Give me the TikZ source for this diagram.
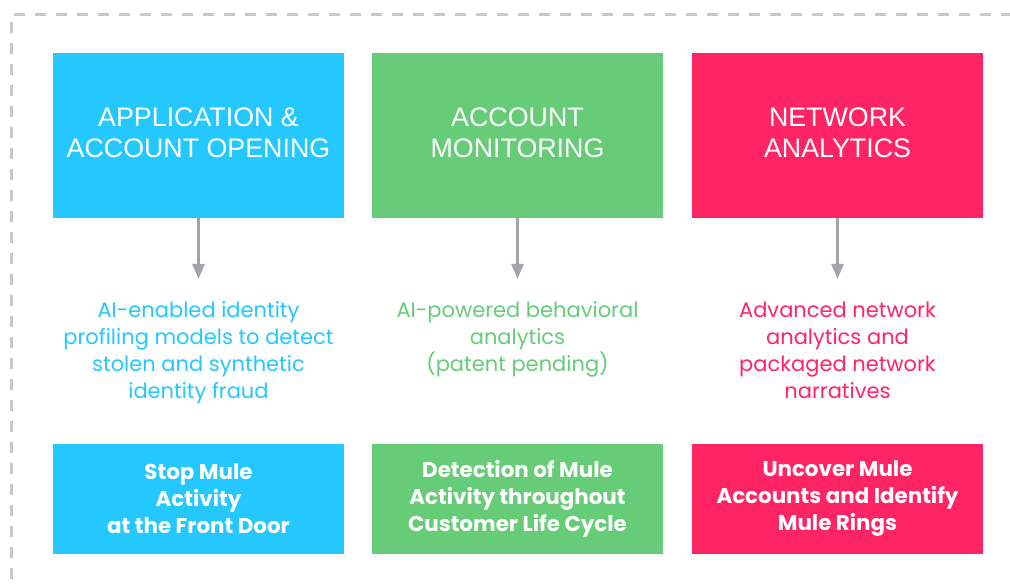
\documentclass[tikz,border=0pt]{standalone}
\usepackage{fontspec}
\setmainfont{Liberation Sans}
\newfontfamily\bodyfont{Poppins}
\usetikzlibrary{arrows.meta}
\definecolor{cblue}{RGB}{36,200,255}
\definecolor{cgreen}{RGB}{102,204,119}
\definecolor{cpink}{RGB}{255,36,99}
\definecolor{cborder}{RGB}{200,200,200}
\definecolor{carrow}{RGB}{163,163,168}
\tikzset{
  topbox/.style={fill=#1, minimum width=291pt, minimum height=165pt, inner sep=0pt},
  toptext/.style={text=white, font=\fontsize{26.8}{31}\selectfont, align=center, inner sep=0pt},
  botbox/.style={fill=#1, minimum width=291pt, minimum height=110pt, inner sep=0pt, text=white,
    font=\bodyfont\bfseries\fontsize{21.4}{27}\selectfont, align=center},
  desc/.style={text=#1, font=\bodyfont\fontsize{21}{27}\selectfont, align=center, inner sep=0pt, anchor=north},
  flow/.style={draw=carrow, line width=2.5pt, -{Triangle[length=15pt,width=12pt]}},
  frame/.style={draw=cborder, line width=3pt, dash pattern=on 11pt off 10pt}
}
\begin{document}
\begin{tikzpicture}[x=1pt,y=-1pt]
\useasboundingbox (0,0) rectangle (1010,588);
\draw[frame] (11,600) -- (11,15) -- (1030,15);
\node[topbox=cblue] (t1) at (198.5,135.5) {};
\node[topbox=cgreen] (t2) at (517.5,135.5) {};
\node[topbox=cpink] (t3) at (837.5,135.5) {};
\node[toptext] (l1) at (198.5,132.5) {APPLICATION \&\\ACCOUNT OPENING};
\node[toptext] (l2) at (517.5,132.5) {ACCOUNT\\MONITORING};
\node[toptext] (l3) at (837.5,132.5) {NETWORK\\ANALYTICS};
\coordinate (a1) at (198.5,279);
\coordinate (a2) at (517.5,279);
\coordinate (a3) at (837.5,279);
\draw[flow] (t1.south) -- (a1);
\draw[flow] (t2.south) -- (a2);
\draw[flow] (t3.south) -- (a3);
\node[desc=cblue] (d1) at (198.5,301.5) {AI-enabled identity\\profiling models to detect\\stolen and synthetic\\identity fraud};
\node[desc=cgreen] (d2) at (517.5,301.5) {AI-powered behavioral\\analytics\\(patent pending)};
\node[desc=cpink] (d3) at (837.5,301.5) {Advanced network\\analytics and\\packaged network\\narratives};
\node[botbox=cblue] (b1) at (198.5,499) {Stop Mule\\Activity\\at the Front Door};
\node[botbox=cgreen] (b2) at (517.5,499) {Detection of Mule\\Activity throughout\\Customer Life Cycle};
\node[botbox=cpink] (b3) at (837.5,499) {Uncover Mule\\Accounts and Identify\\Mule Rings};
\end{tikzpicture}
\end{document}
